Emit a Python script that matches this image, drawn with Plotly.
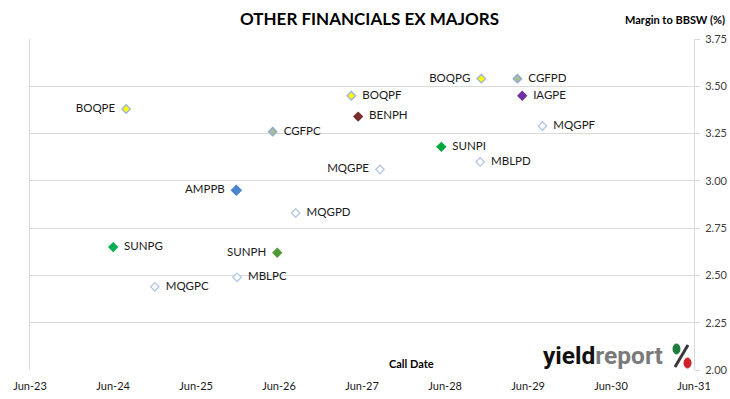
import plotly.graph_objects as go

# ---- data ----
securities = ["BOQPE", "SUNPG", "MQGPC", "AMPPB", "MBLPC", "CGFPC", "SUNPH", "MQGPD",
              "BOQPF", "BENPH", "MQGPE", "SUNPI", "MBLPD", "BOQPG", "CGFPD", "IAGPE", "MQGPF"]
call_dates = ["2024-07-28", "2024-06-01", "2024-12-01", "2025-11-25", "2025-11-28", "2026-05-04",
              "2026-05-24", "2026-08-13", "2027-04-15", "2027-05-15", "2027-08-19", "2028-05-15",
              "2028-11-02", "2028-11-07", "2029-04-15", "2029-05-06", "2029-08-03"]
margins = [3.38, 2.65, 2.44, 2.95, 2.49, 3.26, 2.62, 2.83,
           3.45, 3.34, 3.06, 3.18, 3.10, 3.54, 3.54, 3.45, 3.29]
x_ticks = ["2023-06-01", "2024-06-01", "2025-06-01", "2026-06-01", "2027-06-01",
           "2028-06-01", "2029-06-01", "2030-06-01", "2031-06-01"]
x_tick_labels = ["Jun-23", "Jun-24", "Jun-25", "Jun-26", "Jun-27", "Jun-28", "Jun-29", "Jun-30", "Jun-31"]

# ---- styles ----
HOLLOW = ("#FFFFFF", "#B4C7E7")
style = {
    "BOQ": ("#FFFF00", "#9DB3D9"),
    "CGF": ("#A9BE8C", "#8EAAD8"),
    "BEN": ("#7B2E2E", "#7B2E2E"),
    "AMP": ("#4A86D0", "#4A86D0"),
    "IAG": ("#7030A0", "#7030A0"),
    "MQG": HOLLOW,
    "MBL": HOLLOW,
    "SUNPG": ("#00B050", "#00B050"),
    "SUNPI": ("#00A83C", "#00A83C"),
    "SUNPH": ("#4E9A32", "#4E9A32"),
}
left_labels = {"BOQPE", "BOQPG", "AMPPB", "MQGPE", "SUNPH"}

def get_style(name):
    return style.get(name, style.get(name[:3]))

fills = [get_style(n)[0] for n in securities]
lines = [get_style(n)[1] for n in securities]
textpos = ["middle left" if n in left_labels else "middle right" for n in securities]
sizes = [7.5 if n == "AMPPB" else 6.5 for n in securities]

FONT = "Lato, 'Open Sans', sans-serif"

# plot area in pixels
L, R, T, B = 30, 694, 39, 370
def px(x):
    return (x - L) / (R - L)
def py(y):
    return (B - y) / (B - T)

fig = go.Figure()
fig.add_trace(go.Scatter(
    x=call_dates, y=margins, mode="markers+text",
    text=["  " + n + "  " for n in securities], textposition=textpos,
    textfont=dict(family=FONT, size=11.5, color="#1a1a1a"),
    marker=dict(symbol="diamond", size=sizes, color=fills, opacity=1,
                line=dict(color=lines, width=1.3)),
    cliponaxis=False, hoverinfo="skip",
))

fig.update_layout(
    width=730, height=399,
    margin=dict(l=L, r=730 - R, t=T, b=399 - B, autoexpand=False),
    paper_bgcolor="white", plot_bgcolor="white",
    showlegend=False,
    font=dict(family=FONT, size=11, color="#404040"),
    title=dict(text="<b>OTHER FINANCIALS EX MAJORS</b>", x=369.5 / 730, xanchor="center",
               y=1 - 19 / 399, yanchor="middle",
               font=dict(family=FONT, size=17, color="#000000")),
)
fig.update_xaxes(
    type="date", range=["2023-06-01", "2031-06-01"],
    tickvals=x_ticks, ticktext=x_tick_labels,
    showgrid=False, zeroline=False, showline=False, ticks="",
    automargin=False, ticklabelstandoff=8,
    tickfont=dict(family=FONT, size=11, color="#1a1a1a"),
)
fig.update_yaxes(
    side="right", range=[2.0, 3.75], dtick=0.25, tickformat=".2f",
    showgrid=True, gridcolor="#D9D9D9", gridwidth=1,
    showline=True, linecolor="#D9D9D9", linewidth=1, mirror=True,
    ticks="outside", ticklen=5, tickcolor="#D9D9D9",
    zeroline=False, automargin=False, ticklabelstandoff=3,
    tickfont=dict(family=FONT, size=11, color="#404040"),
)

fig.add_annotation(text="<b>Margin to BBSW (%)</b>", xref="paper", yref="paper",
                   x=px(727), y=py(19), xanchor="right", yanchor="middle",
                   showarrow=False, font=dict(family=FONT, size=11, color="#000000"))
fig.add_annotation(text="<b>Call Date</b>", xref="paper", yref="paper",
                   x=px(411), y=py(363), xanchor="center", yanchor="middle",
                   showarrow=False, font=dict(family=FONT, size=11, color="#000000"))
fig.add_annotation(text="<b>yield</b><b><span style='color:#7a7a7a'>report</span></b>",
                   xref="paper", yref="paper",
                   x=px(541), y=py(355), xanchor="left", yanchor="middle",
                   showarrow=False, font=dict(family="Roboto, sans-serif", size=24.5, color="#111111"))
# percent sign of logo
fig.add_shape(type="line", xref="paper", yref="paper",
              x0=px(675), y0=py(367), x1=px(688), y1=py(345),
              line=dict(color="#3a3a3a", width=3))
fig.add_shape(type="circle", xref="paper", yref="paper",
              x0=px(673), x1=px(680), y0=py(354), y1=py(344),
              fillcolor="#1E7B3C", line=dict(color="#1E7B3C", width=1))
fig.add_shape(type="circle", xref="paper", yref="paper",
              x0=px(684), x1=px(691), y0=py(368), y1=py(358),
              fillcolor="#D0202A", line=dict(color="#D0202A", width=1))

fig.write_html("out.html", config={"displayModeBar": False},
               post_script="document.body.style.margin='0';document.body.style.overflow='hidden';")
